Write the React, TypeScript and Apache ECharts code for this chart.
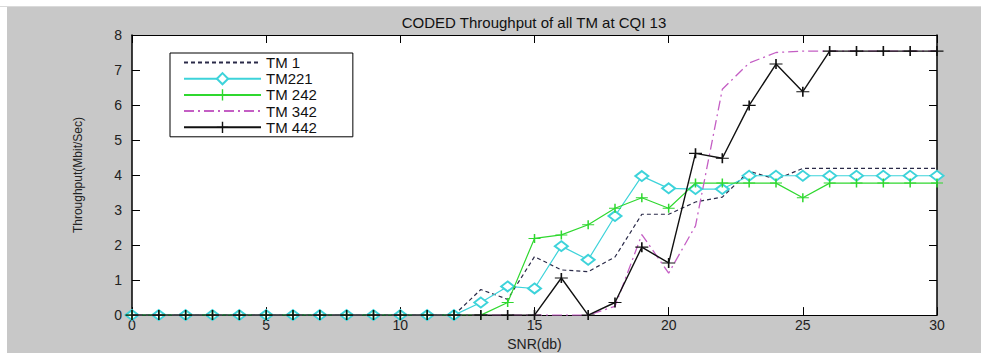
import React, { useEffect, useRef } from "react";
import * as echarts from "echarts";

const snr = [0, 1, 2, 3, 4, 5, 6, 7, 8, 9, 10, 11, 12, 13, 14, 15, 16, 17, 18, 19, 20, 21, 22, 23, 24, 25, 26, 27, 28, 29, 30];

const seriesNames = ["TM 1", "TM221", "TM 242", "TM 342", "TM 442"];

const tm1 = [0, 0, 0, 0, 0, 0, 0, 0, 0, 0, 0, 0, 0, 0.73, 0.45, 1.67, 1.29, 1.24, 1.66, 2.88, 2.88, 3.23, 3.37, 4.11, 3.88, 4.19, 4.19, 4.19, 4.19, 4.19, 4.19];
const tm221 = [0, 0, 0, 0, 0, 0, 0, 0, 0, 0, 0, 0, 0, 0.36, 0.82, 0.76, 1.97, 1.58, 2.83, 3.97, 3.62, 3.6, 3.6, 3.98, 3.98, 3.98, 3.98, 3.98, 3.98, 3.98, 3.98];
const tm242 = [0, 0, 0, 0, 0, 0, 0, 0, 0, 0, 0, 0, 0, 0, 0.36, 2.19, 2.29, 2.58, 3.05, 3.35, 3.05, 3.77, 3.77, 3.77, 3.77, 3.35, 3.77, 3.77, 3.77, 3.77, 3.77];
const tm342 = [0, 0, 0, 0, 0, 0, 0, 0, 0, 0, 0, 0, 0, 0, 0, 0, 0, 0, 0.25, 2.3, 1.2, 2.55, 6.45, 7.2, 7.5, 7.54, 7.54, 7.54, 7.54, 7.54, 7.54];
const tm442 = [0, 0, 0, 0, 0, 0, 0, 0, 0, 0, 0, 0, 0, 0, 0, 0, 1.06, 0, 0.36, 1.94, 1.49, 4.62, 4.48, 5.99, 7.17, 6.38, 7.54, 7.54, 7.54, 7.54, 7.54];

const titleText = "CODED Throughput of all TM at CQI 13";
const xName = "SNR(db)";
const yName = "Throughput(Mbit/Sec)";

const FONT = "'Liberation Sans', Arial, Helvetica, sans-serif";
const PLUS = "path://M5.25,0H6.75V4H12V5H6.75V9H5.25V5H0V4H5.25Z";

export default function App() {
  const ref = useRef<HTMLDivElement>(null);

  useEffect(() => {
    document.body.style.margin = "0";
    const chart = echarts.init(ref.current!, null, { renderer: "svg" });
    const pair = (ys: number[]) => snr.map((x, i) => [x, ys[i]]);

    const axisCommon = {
      type: "value" as const,
      splitLine: { show: false },
      axisTick: { inside: true, length: 8, lineStyle: { color: "#000", width: 1 } },
    };

    chart.setOption({
      animation: false,
      backgroundColor: "transparent",
      title: {
        text: titleText,
        left: 534,
        top: 15,
        textAlign: "center",
        padding: 0,
        textStyle: { fontSize: 15, fontWeight: "normal", color: "#111", fontFamily: FONT },
      },
      grid: {
        left: 132,
        right: 44,
        top: 35,
        bottom: 33,
        show: true,
        backgroundColor: "#fff",
        borderWidth: 0,
      },
      legend: {
        orient: "vertical",
        left: 170,
        top: 53,
        itemWidth: 77,
        itemHeight: 14,
        itemGap: 1.2,
        padding: [2, 36, 2, 13],
        backgroundColor: "#fff",
        borderColor: "#000",
        borderWidth: 1,
        selectedMode: false,
        textStyle: { fontSize: 15, color: "#111", fontFamily: FONT },
        data: [
          { name: seriesNames[0], itemStyle: { opacity: 0 } },
          { name: seriesNames[1] },
          { name: seriesNames[2] },
          { name: seriesNames[3], itemStyle: { opacity: 0 } },
          { name: seriesNames[4] },
        ],
      },
      xAxis: [
        {
          ...axisCommon,
          min: 0,
          max: 30,
          interval: 5,
          position: "bottom",
          axisLine: { onZero: false, lineStyle: { color: "#000", width: 1 } },
          axisLabel: { margin: 3, fontSize: 14, color: "#222", fontFamily: FONT },
          name: xName,
          nameLocation: "middle",
          nameGap: 17,
          nameTextStyle: { fontSize: 14, color: "#222", fontFamily: FONT },
        },
        {
          ...axisCommon,
          min: 0,
          max: 30,
          interval: 5,
          position: "top",
          axisLine: { onZero: false, lineStyle: { color: "#000", width: 1 } },
          axisLabel: { show: false },
        },
      ],
      yAxis: [
        {
          ...axisCommon,
          min: 0,
          max: 8,
          interval: 1,
          position: "left",
          axisLine: { show: true, onZero: false, lineStyle: { color: "#000", width: 1.5 } },
          axisLabel: { margin: 10, fontSize: 14, color: "#222", fontFamily: FONT },
          name: yName,
          nameLocation: "middle",
          nameGap: 48,
          nameTextStyle: { fontSize: 12, color: "#222", fontFamily: FONT },
        },
        {
          ...axisCommon,
          min: 0,
          max: 8,
          interval: 1,
          position: "right",
          axisLine: { show: true, onZero: false, lineStyle: { color: "#000", width: 1.5 } },
          axisLabel: { show: false },
        },
      ],
      series: [
        {
          name: seriesNames[0],
          type: "line",
          data: pair(tm1),
          symbol: "none",
          itemStyle: { color: "#2a2a48" },
          lineStyle: { color: "#2a2a48", width: 1.2, type: [4, 3] },
          z: 2,
        },
        {
          name: seriesNames[1],
          type: "line",
          data: pair(tm221),
          symbol: "emptyDiamond",
          symbolSize: [13, 10],
          itemStyle: { color: "#3dd3da", borderWidth: 1.2 },
          lineStyle: { color: "#3dd3da", width: 1.2 },
          z: 3,
        },
        {
          name: seriesNames[2],
          type: "line",
          data: pair(tm242),
          symbol: PLUS,
          symbolSize: [12, 9],
          itemStyle: { color: "#2fd82f" },
          lineStyle: { color: "#2fd82f", width: 1.2 },
          z: 4,
        },
        {
          name: seriesNames[3],
          type: "line",
          data: pair(tm342),
          symbol: "none",
          itemStyle: { color: "#c45ec4" },
          lineStyle: { color: "#c45ec4", width: 1.3, type: [10, 4, 2, 4] },
          z: 5,
        },
        {
          name: seriesNames[4],
          type: "line",
          data: pair(tm442),
          symbol: PLUS,
          symbolSize: [13, 10],
          itemStyle: { color: "#111" },
          lineStyle: { color: "#111", width: 1.4 },
          z: 6,
        },
      ],
    });

    return () => chart.dispose();
  }, []);

  return (
    <div style={{ position: "fixed", left: 0, top: 0, width: 981, height: 356, background: "#fff" }}>
      <div style={{ position: "absolute", left: 0, top: 6, width: 981, height: 1, background: "#dadada" }} />
      <div style={{ position: "absolute", left: 7, top: 7, width: 974, height: 346, background: "#c8c8c8" }} />
      <div ref={ref} style={{ position: "absolute", left: 0, top: 0, width: 981, height: 356 }} />
    </div>
  );
}
